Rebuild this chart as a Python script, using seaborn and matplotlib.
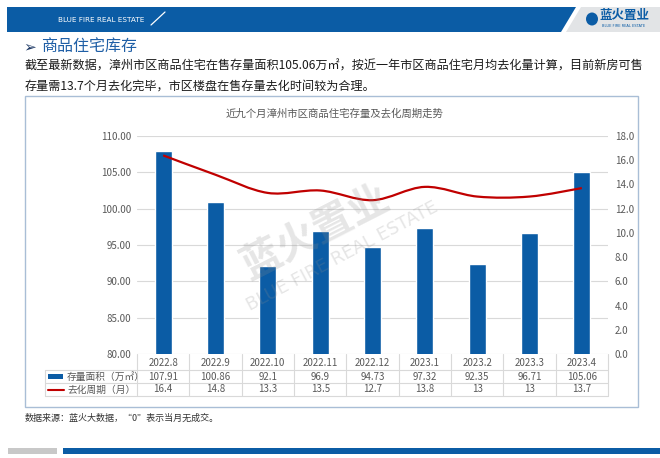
import numpy as np
import pandas as pd
import matplotlib
matplotlib.use('Agg')
import matplotlib.pyplot as plt
import seaborn as sns
from matplotlib.path import Path
from matplotlib.patches import PathPatch, Rectangle, Polygon, Ellipse
from matplotlib.lines import Line2D
from matplotlib.transforms import blended_transform_factory
from matplotlib.ticker import FormatStrFormatter

# ---------------- data ----------------
categories = ['2022.8', '2022.9', '2022.10', '2022.11', '2022.12',
              '2023.1', '2023.2', '2023.3', '2023.4']
area = [107.91, 100.86, 92.1, 96.9, 94.73, 97.32, 92.35, 96.71, 105.06]
cycle = [16.4, 14.8, 13.3, 13.5, 12.7, 13.8, 13, 13, 13.7]
series_labels = ['存量面积（万㎡）', '去化周期（月）']
left_ticks = [80, 85, 90, 95, 100, 105, 110]
right_ticks = [0, 2, 4, 6, 8, 10, 12, 14, 16, 18]

chart_title = '近九个月漳州市区商品住宅存量及去化周期走势'
section_title = '商品住宅库存'
para1 = '截至最新数据，漳州市区商品住宅在售存量面积105.06万㎡，按近一年市区商品住宅月均去化量计算，目前新房可售'
para2 = '存量需13.7个月去化完毕，市区楼盘在售存量去化时间较为合理。'
footer = '数据来源：蓝火大数据，“0”表示当月无成交。'

BLUE = '#0b5ca5'
RED = '#c00000'
GRID = '#d9d9d9'
TXT = '#595959'

sns.set_theme(style='white')
plt.rcParams['font.family'] = ['Noto Sans CJK SC', 'DejaVu Sans']

W, H = 660, 458
fig = plt.figure(figsize=(6.6, 4.58), dpi=100)
fig.patch.set_facecolor('white')


def fx(px):
    return px / W


def fy(py):
    return 1 - py / H


def fpts(pts):
    return [(fx(a), fy(b)) for a, b in pts]


# ---------------- header ----------------
fig.add_artist(Polygon(fpts([(7, 7), (576, 7), (561, 32), (7, 32)]), closed=True,
                       transform=fig.transFigure, facecolor=BLUE, edgecolor='none'))
fig.add_artist(Polygon(fpts([(581, 7), (660, 7), (660, 32), (566, 32)]), closed=True,
                       transform=fig.transFigure, facecolor='#e2e4e6', edgecolor='none'))
fig.add_artist(Line2D([fx(151), fx(165)], [fy(25), fy(12)], transform=fig.transFigure,
                      color='white', lw=0.9))
fig.text(fx(58), fy(19.5), 'BLUE FIRE REAL ESTATE', fontsize=5.2, color='white',
         ha='left', va='center', family=['DejaVu Sans'])
fig.add_artist(Ellipse((fx(592), fy(19)), 12 / W, 13 / H, transform=fig.transFigure,
                       facecolor=BLUE, edgecolor='none'))
fig.text(fx(624), fy(16), '蓝火置业', fontsize=9, color=BLUE, weight='bold',
         ha='center', va='center')
fig.text(fx(624), fy(26), 'BLUE FIRE REAL ESTATE', fontsize=2.6, color=BLUE,
         ha='center', va='center', family=['DejaVu Sans'])

# ---------------- section title & paragraph ----------------
fig.text(fx(23), fy(46.5), '➢', fontsize=11, color='#1f3a66', ha='left', va='center',
         family=['DejaVu Sans'])
fig.text(fx(41), fy(46), section_title, fontsize=11.5, color='#1f5fa6',
         ha='left', va='center')
fig.text(fx(25), fy(66), para1, fontsize=8.7, color='#1a1a1a', ha='left', va='center')
fig.text(fx(25), fy(86), para2, fontsize=8.7, color='#1a1a1a', ha='left', va='center')

# chart box
fig.add_artist(Rectangle((fx(25), fy(407)), fx(638) - fx(25), fy(96) - fy(407),
                         transform=fig.transFigure, facecolor='none',
                         edgecolor='#a9bed6', lw=1.0))
fig.text(fx(335), fy(114), chart_title, fontsize=7.5, color=TXT, ha='center', va='center')

# ---------------- main axes ----------------
ax = fig.add_axes([fx(137), fy(354), fx(608) - fx(137), fy(136) - fy(354)])
df = pd.DataFrame({'month': categories, 'area': area, 'cycle': cycle})
sns.barplot(data=df, x='month', y='area', color=BLUE, saturation=1, width=0.33,
            ax=ax, zorder=3)
ax.set_ylim(80, 110)
ax.set_xlim(-0.5, len(categories) - 0.5)
ax.set_yticks(left_ticks)
ax.yaxis.set_major_formatter(FormatStrFormatter('%.2f'))
ax.yaxis.grid(True, color=GRID, lw=0.8, zorder=0)
ax.set_axisbelow(True)
ax.tick_params(axis='y', length=0, labelsize=7, labelcolor=TXT, pad=4)
ax.tick_params(axis='x', length=0, labelbottom=False)
ax.set_xlabel('')
ax.set_ylabel('')
for s in ax.spines.values():
    s.set_visible(False)
ax.set_facecolor('none')

ax2 = ax.twinx()
ax2.set_ylim(0, 18)
ax2.set_yticks(right_ticks)
ax2.yaxis.set_major_formatter(FormatStrFormatter('%.1f'))
ax2.tick_params(axis='y', length=0, labelsize=7, labelcolor=TXT, pad=5)
for s in ax2.spines.values():
    s.set_visible(False)
ax2.grid(False)

# smooth (Catmull-Rom -> cubic Bezier) line through the data points
xs = np.arange(len(cycle), dtype=float)
ys = np.asarray(cycle, dtype=float)
pts = np.column_stack([xs, ys])
ext = np.vstack([pts[0], pts, pts[-1]])
verts = [tuple(pts[0])]
codes = [Path.MOVETO]
for i in range(len(pts) - 1):
    p0, p1, p2, p3 = ext[i], ext[i + 1], ext[i + 2], ext[i + 3]
    c1 = p1 + (p2 - p0) / 6.0
    c2 = p2 - (p3 - p1) / 6.0
    verts += [tuple(c1), tuple(c2), tuple(p2)]
    codes += [Path.CURVE4] * 3
ax2.add_patch(PathPatch(Path(verts, codes), facecolor='none', edgecolor=RED,
                        lw=1.6, zorder=4))

# ---------------- data table ----------------
trans = blended_transform_factory(ax.transData, fig.transFigure)
row_y = [363, 376.5, 389.5]
for i, cat in enumerate(categories):
    fig.text(i, fy(row_y[0]), cat, transform=trans, fontsize=7, color=TXT,
             ha='center', va='center')
    fig.text(i, fy(row_y[1]), f'{area[i]:g}', transform=trans, fontsize=7,
             color=TXT, ha='center', va='center')
    fig.text(i, fy(row_y[2]), f'{cycle[i]:g}', transform=trans, fontsize=7,
             color=TXT, ha='center', va='center')

# table grid lines
for yy in [370, 383, 396]:
    fig.add_artist(Line2D([fx(45), fx(608)], [fy(yy), fy(yy)],
                          transform=fig.transFigure, color=GRID, lw=0.8))
fig.add_artist(Line2D([fx(45), fx(45)], [fy(370), fy(396)],
                      transform=fig.transFigure, color=GRID, lw=0.8))
for k in range(len(categories) + 1):
    fig.add_artist(Line2D([k - 0.5, k - 0.5], [fy(354), fy(396)], transform=trans,
                          color=GRID, lw=0.8))

# legend cells
fig.add_artist(Rectangle((fx(48), fy(378.5)), fx(63) - fx(48), fy(374) - fy(378.5),
                         transform=fig.transFigure, facecolor=BLUE, edgecolor='none'))
fig.text(fx(67), fy(376.5), series_labels[0], fontsize=7, color=TXT,
         ha='left', va='center')
fig.add_artist(Line2D([fx(48), fx(64)], [fy(389.5), fy(389.5)],
                      transform=fig.transFigure, color=RED, lw=1.5))
fig.text(fx(67), fy(389.5), series_labels[1], fontsize=7, color=TXT,
         ha='left', va='center')

# watermark
fig.text(fx(315), fy(232), '蓝火置业', fontsize=29, weight='bold', rotation=27,
         color='#8c8c8c', alpha=0.22, ha='center', va='center', zorder=10)
fig.text(fx(342), fy(256), 'BLUE FIRE REAL ESTATE', fontsize=13, rotation=28,
         color='#8c8c8c', alpha=0.22, ha='center', va='center', zorder=10,
         family=['DejaVu Sans'])

# ---------------- footer ----------------
fig.text(fx(25), fy(418), footer, fontsize=6.5, color='#333333', ha='left', va='center')
fig.add_artist(Rectangle((fx(8), fy(454)), fx(57) - fx(8), fy(448) - fy(454),
                         transform=fig.transFigure, facecolor='#c8c8c8', edgecolor='none'))
fig.add_artist(Rectangle((fx(63), fy(454)), fx(660) - fx(63), fy(448) - fy(454),
                         transform=fig.transFigure, facecolor=BLUE, edgecolor='none'))

fig.savefig('out.png', dpi=100, facecolor='white')
